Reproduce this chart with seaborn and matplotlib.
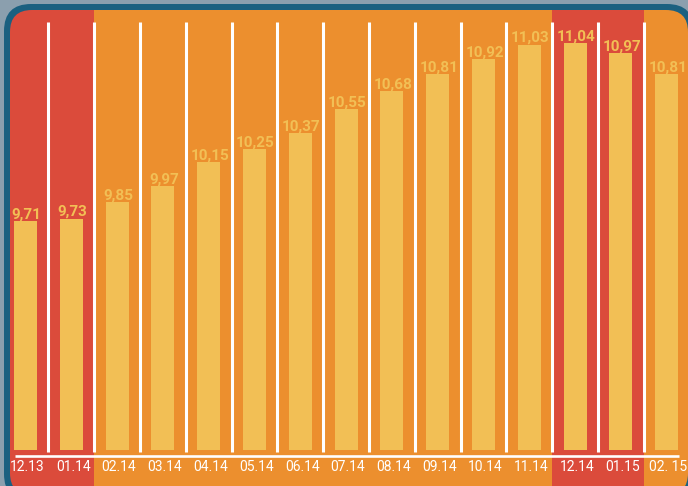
import matplotlib
matplotlib.use("Agg")
import matplotlib.pyplot as plt
import matplotlib.transforms as mtransforms
from matplotlib.patches import FancyBboxPatch
import seaborn as sns

months = ["12.13", "01.14", "02.14", "03.14", "04.14", "05.14", "06.14", "07.14",
          "08.14", "09.14", "10.14", "11.14", "12.14", "01.15", "02. 15"]
values = [9.71, 9.73, 9.85, 9.97, 10.15, 10.25, 10.37, 10.55,
          10.68, 10.81, 10.92, 11.03, 11.04, 10.97, 10.81]
value_labels = ["9,71", "9,73", "9,85", "9,97", "10,15", "10,25", "10,37", "10,55",
                "10,68", "10,81", "10,92", "11,03", "11,04", "10,97", "10,81"]
winter = [True, True, False, False, False, False, False, False,
          False, False, False, False, True, True, False]

BG = "#8b9fae"
FRAME = "#1b6080"
RED = "#db4b3b"
ORANGE = "#ec8f2e"
YELLOW = "#f2bf55"

sns.set_theme(style="white")
plt.rcParams["font.family"] = ["Roboto", "DejaVu Sans"]

fig = plt.figure(figsize=(6.88, 4.86), dpi=100, facecolor=BG)
ident = mtransforms.IdentityTransform()

outer = FancyBboxPatch((4, -15), 690, 497, boxstyle="round,pad=0,rounding_size=27",
                       transform=ident, facecolor=FRAME, edgecolor="none", zorder=-5)
fig.patches.append(outer)
inner = FancyBboxPatch((10, -9), 678, 485, boxstyle="round,pad=0,rounding_size=22",
                       transform=ident, facecolor="none", edgecolor="none")

ax = fig.add_axes([0, 0, 1, 1])
ax.set_facecolor("none")
ax.set_zorder(2)

# column backgrounds
for i, w in enumerate(winter):
    span = ax.axvspan(i - 0.5, i + 0.5, color=RED if w else ORANGE, lw=0, zorder=0.5)
    span.set_clip_path(inner)

sns.barplot(x=months, y=values, color=YELLOW, saturation=1, width=0.5,
            ax=ax, zorder=2, linewidth=0)

xmin, xmax = -0.557, 14.465
ymin, ymax = 7.731, 11.363
ax.set_xlim(xmin, xmax)
ax.set_ylim(ymin, ymax)

base = 8.0
clipbox = mtransforms.TransformedBbox(
    mtransforms.Bbox([[xmin, base], [xmax, ymax]]), ax.transData)
for p in ax.patches:
    if p.get_zorder() == 2:
        p.set_clip_box(clipbox)

# separators and baseline
ax.vlines([i + 0.5 for i in range(len(months) - 1)], 7.985, 11.199,
          colors="white", lw=2.2, zorder=3)
ax.hlines(7.955, -0.23, 14.27, colors="white", lw=1.9, zorder=3)

# value labels
for i, (v, lab) in enumerate(zip(values, value_labels)):
    ax.annotate(lab, (i, v), xytext=(1, 2.5), textcoords="offset pixels",
                ha="center", va="baseline", color=YELLOW, fontsize=11,
                fontweight="bold", zorder=4)

# month labels
for i, m in enumerate(months):
    ax.text(i + 0.04, 7.873, m, ha="center", va="center", color="white",
            fontsize=10, zorder=4)

ax.set_axis_off()
fig.savefig("out.png", dpi=100, facecolor=BG)
